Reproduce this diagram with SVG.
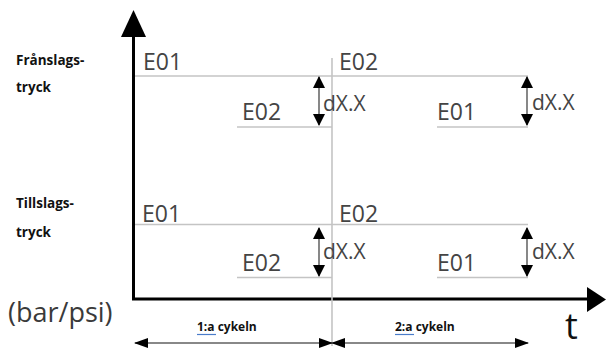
<svg xmlns="http://www.w3.org/2000/svg" width="606" height="349" viewBox="0 0 606 349">
<style>
.lbl{font-family:"Open Sans","Liberation Sans",sans-serif;font-weight:bold;font-size:13.5px;fill:#111}
.ev{font-family:"Open Sans","Liberation Sans",sans-serif;font-size:23px;fill:#444}
.dx{font-family:"Open Sans","Liberation Sans",sans-serif;font-size:21px;fill:#444}
.cy{font-family:"Open Sans","Liberation Sans",sans-serif;font-weight:bold;font-size:12px;fill:#111}
.lev{stroke:#c4c4c4;stroke-width:1.6;fill:none}
.ax{stroke:#000;stroke-width:3;fill:none}
.dim{stroke:#555;stroke-width:1.4;fill:none}
.cyc{stroke:#888;stroke-width:2;fill:none}
.ul{stroke:#4a7cc9;stroke-width:1.2;fill:none}
</style>
<defs>
<marker id="ah" viewBox="0 0 12 12" refX="11" refY="6" markerWidth="12" markerHeight="12" markerUnits="userSpaceOnUse" orient="auto-start-reverse">
<path d="M0,0 L12,6 L0,12 Z" fill="#000"/>
</marker>
<marker id="ab" viewBox="0 0 14 10" refX="13" refY="5" markerWidth="14" markerHeight="10" markerUnits="userSpaceOnUse" orient="auto-start-reverse">
<path d="M0,0 L14,5 L0,10 Z" fill="#000"/>
</marker>
</defs>
<rect width="606" height="349" fill="#fff"/>

<g id="axes">
<line class="ax" x1="133.5" y1="34" x2="133.5" y2="299"/>
<line class="ax" x1="132" y1="299" x2="590" y2="299"/>
<polygon points="133.5,10 121,37 146,37" fill="#000"/>
<polygon points="606,299.5 587,287 587,312" fill="#000"/>
</g>

<g id="connectors">
<line class="lev" x1="135" y1="76" x2="528" y2="76"/>
<line class="lev" x1="237" y1="127" x2="332" y2="127"/>
<line class="lev" x1="437" y1="127" x2="528" y2="127"/>
<line class="lev" x1="135" y1="224.5" x2="528" y2="224.5"/>
<line class="lev" x1="237" y1="277.5" x2="332" y2="277.5"/>
<line class="lev" x1="437" y1="277.5" x2="528" y2="277.5"/>
<line class="lev" x1="332" y1="58" x2="332" y2="346" stroke-width="1.3"/>
<line class="dim" x1="319" y1="77" x2="319" y2="125" marker-start="url(#ah)" marker-end="url(#ah)"/>
<line class="dim" x1="527" y1="77" x2="527" y2="125" marker-start="url(#ah)" marker-end="url(#ah)"/>
<line class="dim" x1="319" y1="228" x2="319" y2="276" marker-start="url(#ah)" marker-end="url(#ah)"/>
<line class="dim" x1="527" y1="228" x2="527" y2="276" marker-start="url(#ah)" marker-end="url(#ah)"/>
<line class="cyc" x1="135" y1="343" x2="332" y2="343" marker-start="url(#ab)" marker-end="url(#ab)"/>
<line class="cyc" x1="332" y1="343" x2="528" y2="343" marker-start="url(#ab)" marker-end="url(#ab)"/>
</g>

<g id="label-franslag">
<text class="lbl" x="16" y="65">Frånslags-</text>
<text class="lbl" x="16" y="92">tryck</text>
</g>
<g id="label-tillslag">
<text class="lbl" x="16" y="208">Tillslags-</text>
<text class="lbl" x="16" y="237">tryck</text>
</g>
<g id="label-unit">
<text x="8" y="322" font-family="'Open Sans','Liberation Sans',sans-serif" font-size="27" fill="#3a3a3a">(bar/psi)</text>
</g>
<g id="label-t">
<text x="565" y="339" font-family="'Open Sans','Liberation Sans',sans-serif" font-size="36" fill="#111">t</text>
</g>

<g id="upper-e01-a"><text class="ev" x="143" y="70">E01</text></g>
<g id="upper-e02-a"><text class="ev" x="339" y="70">E02</text></g>
<g id="upper-e02-b"><text class="ev" x="242" y="120">E02</text></g>
<g id="upper-e01-b"><text class="ev" x="437" y="120">E01</text></g>
<g id="upper-dx-a"><text class="dx" x="323" y="111">dX.X</text></g>
<g id="upper-dx-b"><text class="dx" x="532" y="110">dX.X</text></g>

<g id="lower-e01-a"><text class="ev" x="142" y="222">E01</text></g>
<g id="lower-e02-a"><text class="ev" x="339" y="222">E02</text></g>
<g id="lower-e02-b"><text class="ev" x="242" y="271">E02</text></g>
<g id="lower-e01-b"><text class="ev" x="437" y="271">E01</text></g>
<g id="lower-dx-a"><text class="dx" x="323" y="259">dX.X</text></g>
<g id="lower-dx-b"><text class="dx" x="532" y="259">dX.X</text></g>

<g id="cycle-1">
<text class="cy" x="197" y="331">1:a cykeln</text>
<line class="ul" x1="197" y1="334.5" x2="216" y2="334.5"/>
</g>
<g id="cycle-2">
<text class="cy" x="395" y="331">2:a cykeln</text>
<line class="ul" x1="395" y1="334.5" x2="414" y2="334.5"/>
</g>
</svg>
